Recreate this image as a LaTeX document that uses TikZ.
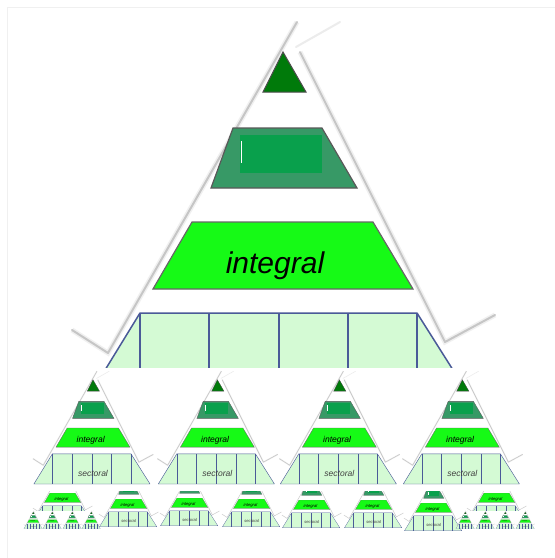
\documentclass[tikz,border=0pt]{standalone}
\usepackage{fontspec}
\newfontfamily\pyrfont{Liberation Sans}
\definecolor{apexgreen}{HTML}{007A0A}
\definecolor{midgreen}{HTML}{379966}
\definecolor{innergreen}{HTML}{09A04C}
\definecolor{intgreen}{HTML}{16FA16}
\definecolor{secgreen}{HTML}{D4FAD4}
\definecolor{secblue}{HTML}{4A5A98}
\def\pyrs{1}
\tikzset{
  rim/.style={draw=gray!45, line width=\pyrs*2pt, line cap=round, line join=round,
    preaction={draw=gray!12, line width=\pyrs*5pt}},
  apexlayer/.style={fill=apexgreen, draw=black!70, line width=\pyrs*1pt},
  midlayer/.style={fill=midgreen, draw=black!65, line width=\pyrs*1.2pt},
  midinner/.style={fill=innergreen},
  intlayer/.style={fill=intgreen, draw=black!60, line width=\pyrs*1.2pt},
  seclayer/.style={fill=secgreen, draw=secblue, line width=\pyrs*1.5pt, line join=round},
  secline/.style={draw=secblue, line width=\pyrs*1.8pt},
  inttext/.style={font=\pyrfont\itshape\fontsize{30}{36}\selectfont, text=black, anchor=base, inner sep=0pt},
  sectext/.style={font=\pyrfont\itshape\fontsize{30}{36}\selectfont, text=black!75, anchor=base, inner sep=0pt}
}
% one pyramid: name, x, y (downwards), scale
\newcommand\pyramid[4]{%
  \begin{scope}[shift={(#2,-#3)}, scale=#4, transform shape]
    \def\pyrs{#4}
    \draw[rim] (72,-330) -- (108,-353) -- (297,-22);
    \draw[draw=gray!15, line width=\pyrs*2pt, line cap=round] (340,-22) -- (296,-47);
    \draw[rim] (300,-52) -- (445,-342) -- (495,-315);
    \draw[apexlayer] (283,-52) -- (306,-92) -- (263,-92) -- cycle;
    \draw[midlayer] (233,-128) -- (322,-128) -- (357,-188) -- (211,-188) -- cycle;
    \fill[midinner] (240,-135) rectangle (322,-173);
    \draw[white, line width=\pyrs*1pt] (241,-141) -- (241,-163);
    \draw[intlayer] (192,-222) -- (373,-222) -- (413,-289) -- (153,-289) -- cycle;
    \node[inttext] (#1-int) at (275,-273) {integral};
    \draw[seclayer] (140,-313) -- (417,-313) -- (484,-419) -- (75,-419) -- cycle;
    \foreach \dx in {140,209,279,348,417}
      \draw[secline] (\dx,-313) -- (\dx,-419);
    \node[sectext] (#1-sec) at (283,-392) {sectoral};
  \end{scope}}

\begin{document}
\begin{tikzpicture}[x=1pt,y=1pt]
  \fill[white] (0,0) rectangle (555,-558);
  \useasboundingbox (0,0) rectangle (555,-558);
  \pyramid{big}{0}{0}{1}
  % lower part of the big band is hidden
  \fill[white] (0,-368) rectangle (555,-558);
  \foreach \cx [count=\i] in {12.6,137,259,382}{
    \pyramid{c\i}{\cx}{365}{0.284}
  }
  % bottom row, cut at the top
  \begin{scope}
    \clip (0,-491) rectangle (555,-558);
    \foreach \cx/\cy [count=\i] in {23/462,89/468,150/467,212/468,272/469,334/469,394/472,457/462}{
      \pyramid{r\i}{\cx}{\cy}{0.14}
    }
  \end{scope}
  \fill[white] (20,-511) rectangle (98,-540);
  \fill[white] (462,-511) rectangle (540,-540);
  \foreach \cx [count=\i] in {20.5,39.5,59.5,78.5,452.5,472.5,492.5,512.5}{
    \pyramid{t\i}{\cx}{509.7}{0.045}
  }
  \draw[gray!12] (7,-558) -- (7,-7) -- (555,-7);
\end{tikzpicture}
\end{document}
